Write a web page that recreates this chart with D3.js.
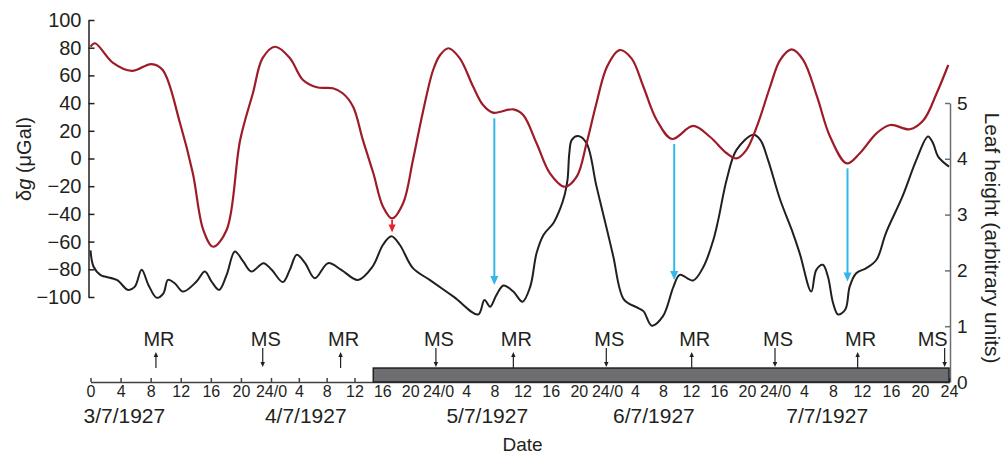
<!DOCTYPE html>
<html>
<head>
<meta charset="utf-8">
<script src="https://cdn.jsdelivr.net/npm/d3@7"></script>
<style>
  body { margin: 0; background: #fff; }
  svg { display: block; font-family: "Liberation Sans", Arial, Helvetica, sans-serif; }
</style>
</head>
<body>
<div id="chart"></div>
<script>
// Hours since 0:00 on 3/7/1927 (day boundaries of the time axis)
var dayBreaks = [0, 24, 48, 72, 96, 120];

// Red curve: gravity change (µGal)
var gravHours = [0, 0.6, 3.0, 5.5, 8.1, 9.6, 11.9, 13.6, 15.0, 16.3, 18.1, 19.9, 21.6, 22.9, 24.6, 26.7, 28.6, 30.6, 32.9, 34.3,
  35.8, 37.2, 38.7, 40.1, 41.4, 43.0, 44.4, 45.8, 47.3, 48.3, 49.5, 51.1, 53.0, 54.4, 55.8, 58.7, 60.1, 62.0, 63.9, 66.0,
  67.7, 69.1, 70.5, 72.0, 73.8, 75.5, 77.2, 79.1, 81.3, 84.3, 86.7, 89.1, 90.5, 91.9, 93.4, 95.3, 96.7, 98.3, 99.9, 101.8,
  103.6, 105.9, 107.7, 110.0, 111.9, 114.6, 116.5, 118.3, 119.9];
var gravValues = [80.7, 83.2, 69.0, 63.2, 68.2, 63.9, 25.6, -10.5, -51.6, -63.7, -51.6, 13.4, 47.3, 72.6, 80.7, 72.6, 56.7, 51.4, 50.7, 47.1,
  37.4, 13.4, -10.5, -34.8, -43.2, -32.1, -1.1, 32.9, 63.9, 74.7, 79.6, 72.3, 51.8, 38.6, 33.1, 35.5, 31.4, 11.0, -10.7, -20.4,
  -13.1, 11.0, 39.9, 66.3, 78.3, 72.3, 51.8, 27.8, 14.1, 23.5, 15.7, 3.8, 0.1, 6.1, 23.0, 51.8, 71.1, 78.8, 71.1, 44.6,
  15.7, -3.5, 3.8, 18.2, 24.2, 21.1, 27.8, 47.1, 67.5];

// Black curve: leaf height (arbitrary units)
var leafHours = [0, 0.4, 1.3, 3.5, 5.0, 5.9, 6.8, 7.7, 8.8, 9.7, 10.3, 11.2, 12.3, 14.1, 15.2, 16.1, 17.1, 18.1, 19.2, 20.3,
  21.4, 23.0, 24.1, 25.7, 26.7, 27.7, 28.9, 30.3, 32.2, 34.1, 36.5, 38.6, 40.1, 41.3, 42.5, 44.4, 46.8, 50.3, 53.7, 54.6,
  55.4, 56.3, 57.3, 58.7, 60.0, 61.1, 62.0, 63.0, 64.4, 65.3, 66.0, 66.4, 66.65, 67.0, 67.9, 69.1, 70.5, 72.0, 72.9, 74.4,
  76.2, 77.2, 78.4, 80.0, 81.5, 82.4, 84.3, 85.8, 87.2, 87.9, 89.1, 90.5, 92.9, 93.9, 95.0, 96.7, 98.3, 99.4, 101.0, 101.7,
  102.6, 103.3, 104.0, 104.7, 105.7, 106.3, 107.2, 108.6, 110.0, 111.3, 113.6, 115.5, 117.1, 117.8, 118.5, 120];
var leafValues = [2.36, 2.07, 1.92, 1.83, 1.65, 1.71, 2.01, 1.74, 1.51, 1.59, 1.83, 1.77, 1.62, 1.80, 1.98, 1.80, 1.65, 1.92, 2.34, 2.16,
  1.98, 2.13, 2.01, 1.79, 2.01, 2.28, 2.13, 1.86, 2.13, 2.01, 1.83, 2.07, 2.46, 2.61, 2.46, 2.04, 1.83, 1.52, 1.21, 1.47,
  1.35, 1.56, 1.73, 1.62, 1.44, 1.71, 2.31, 2.64, 2.85, 3.09, 3.36, 3.63, 4.10, 4.34, 4.41, 4.28, 3.51, 2.73, 2.25, 1.48,
  1.34, 1.27, 1.01, 1.18, 1.71, 1.92, 1.82, 2.07, 2.55, 2.91, 3.63, 4.16, 4.43, 4.34, 3.98, 3.27, 2.73, 2.31, 1.62, 2.01,
  2.10, 1.89, 1.42, 1.21, 1.30, 1.71, 1.95, 2.04, 2.19, 2.67, 3.33, 3.98, 4.40, 4.28, 4.04, 3.86];

// Moon rise / moon set markers
var moonLabels = ["MR", "MS", "MR", "MS", "MR", "MS", "MR", "MS", "MR", "MS"];
var moonHours = [8.7, 22.9, 34.0, 47.7, 58.7, 71.9, 84.1, 96.0, 107.4, 119.4];

// Blue arrows: from the gravity curve (µGal) down to the leaf curve (units)
var blueHours = [56.0, 81.6, 106.0];
var blueFrom = [29.0, 10.5, -7.1];
var blueTo = [1.74, 1.83, 1.80];

// Red arrow
var redHour = 41.4;
var redFrom = -44.4;
var redTo = 2.68;

// Grey bar (hours) and its height (leaf units)
var barStart = 38.7;
var barEnd = 120;
var barHeight = 0.25;

// Tick labels
var gravTicks = [-100, -80, -60, -40, -20, 0, 20, 40, 60, 80, 100];
var leafTicks = [0, 1, 2, 3, 4, 5];
var dateLabels = ["3/7/1927", "4/7/1927", "5/7/1927", "6/7/1927", "7/7/1927"];
var dateHours = [4.5, 29, 55, 78.7, 103.2];

var ink = "#231f20";
var width = 1003, height = 456;

var svg = d3.select("#chart")
  .append("svg")
    .attr("width", width)
    .attr("height", height);

// The printed time axis is not quite uniform (first day is wider), so map day by day
var x = d3.scaleLinear().domain(dayBreaks).range([90.5, 271, 438, 607, 775, 949]);
var yG = d3.scaleLinear().domain([-100, 100]).range([297, 20]);
var yL = d3.scaleLinear().domain([0, 5]).range([382, 103]);

function styleAxis(g, size, color) {
  g.attr("font-size", size).attr("font-family", null);
  g.selectAll("path, line").attr("stroke", color).attr("stroke-width", 1.5);
  g.selectAll("text").attr("fill", ink);
}

// Left axis
svg.append("g")
  .attr("transform", "translate(88.5,0)")
  .call(d3.axisLeft(yG).tickValues(gravTicks).tickSize(-6).tickSizeOuter(0).tickPadding(7)
    .tickFormat(function(d) { return d < 0 ? "\u2212" + Math.abs(d) : d; }))
  .call(styleAxis, 20, ink);

// Right axis
svg.append("g")
  .attr("transform", "translate(950,0)")
  .call(d3.axisRight(yL).tickValues(leafTicks).tickSize(-5).tickSizeOuter(0).tickPadding(7)
    .tickFormat(d3.format("d")))
  .call(styleAxis, 19, "#6d6e71");

// Time axis
svg.append("g")
  .attr("transform", "translate(0," + yL(0) + ")")
  .call(d3.axisBottom(x).tickValues(d3.range(0, 121, 4)).tickSize(-4).tickSizeOuter(0).tickPadding(4)
    .tickFormat(function(h) {
      if (h === 0) return "0";
      if (h === 120) return "24";
      return h % 24 === 0 ? "24/0" : String(h % 24);
    }))
  .call(styleAxis, 16, "#414042");

// Grey bar along the time axis
svg.append("rect")
  .attr("x", x(barStart))
  .attr("y", yL(barHeight))
  .attr("width", x(barEnd) - x(barStart))
  .attr("height", yL(0) - yL(barHeight))
  .attr("fill", "#6d6e71")
  .attr("stroke", ink)
  .attr("stroke-width", 1.5);

// Curves
var line = d3.line()
  .x(function(d) { return x(d[0]); })
  .curve(d3.curveCatmullRom.alpha(0.5));

svg.append("path")
  .datum(d3.zip(leafHours, leafValues))
  .attr("fill", "none")
  .attr("stroke", ink)
  .attr("stroke-width", 2)
  .attr("d", line.y(function(d) { return yL(d[1]); }));

svg.append("path")
  .datum(d3.zip(gravHours, gravValues))
  .attr("fill", "none")
  .attr("stroke", "#9e1b28")
  .attr("stroke-width", 2.2)
  .attr("d", line.y(function(d) { return yG(d[1]); }));

// Vertical arrow with a filled head at (xp, y1)
function arrow(xp, y0, y1, color, w, headLen, headW) {
  var dir = y1 > y0 ? 1 : -1;
  svg.append("line")
    .attr("x1", xp).attr("x2", xp)
    .attr("y1", y0).attr("y2", y1 - dir * headLen * 0.6)
    .attr("stroke", color)
    .attr("stroke-width", w);
  svg.append("path")
    .attr("d", "M" + (xp - headW / 2) + "," + (y1 - dir * headLen) +
               "L" + (xp + headW / 2) + "," + (y1 - dir * headLen) +
               "L" + xp + "," + y1 + "Z")
    .attr("fill", color);
}

blueHours.forEach(function(h, i) {
  arrow(x(h), yG(blueFrom[i]), yL(blueTo[i]), "#35b6e9", 2, 9, 8);
});
arrow(x(redHour), yG(redFrom), yL(redTo), "#e8202a", 1.8, 8, 7);

// Moon rise / set markers
moonHours.forEach(function(h, i) {
  var xp = x(h);
  var up = moonLabels[i] === "MR";
  if (up) arrow(xp, 368, 352, ink, 1.2, 5, 4.5);
  else arrow(xp, 348, 367, ink, 1.2, 5, 4.5);
  var tooFar = xp + 3 + 17 > 950;
  svg.append("text")
    .attr("x", xp + 3)
    .attr("y", 346)
    .attr("text-anchor", tooFar ? "end" : "middle")
    .attr("font-size", 20)
    .attr("fill", ink)
    .text(moonLabels[i]);
});

// Date labels
svg.selectAll(".date")
  .data(dateLabels)
  .enter()
  .append("text")
  .attr("class", "date")
  .attr("x", function(d, i) { return x(dateHours[i]); })
  .attr("y", 423)
  .attr("text-anchor", "middle")
  .attr("font-size", 21)
  .attr("fill", ink)
  .text(function(d) { return d; });

// Axis titles
svg.append("text")
  .attr("x", x(60))
  .attr("y", 451)
  .attr("text-anchor", "middle")
  .attr("font-size", 19)
  .attr("fill", ink)
  .text("Date");

var leftTitle = svg.append("text")
  .attr("transform", "translate(31,159) rotate(-90)")
  .attr("text-anchor", "middle")
  .attr("font-size", 20)
  .attr("fill", ink);
leftTitle.append("tspan").text("\u03b4");
leftTitle.append("tspan").attr("font-style", "italic").text("g");
leftTitle.append("tspan").text(" (\u03bcGal)");

svg.append("text")
  .attr("transform", "translate(985,238) rotate(90)")
  .attr("text-anchor", "middle")
  .attr("font-size", 21)
  .attr("fill", ink)
  .text("Leaf height (arbitrary units)");
</script>
</body>
</html>
